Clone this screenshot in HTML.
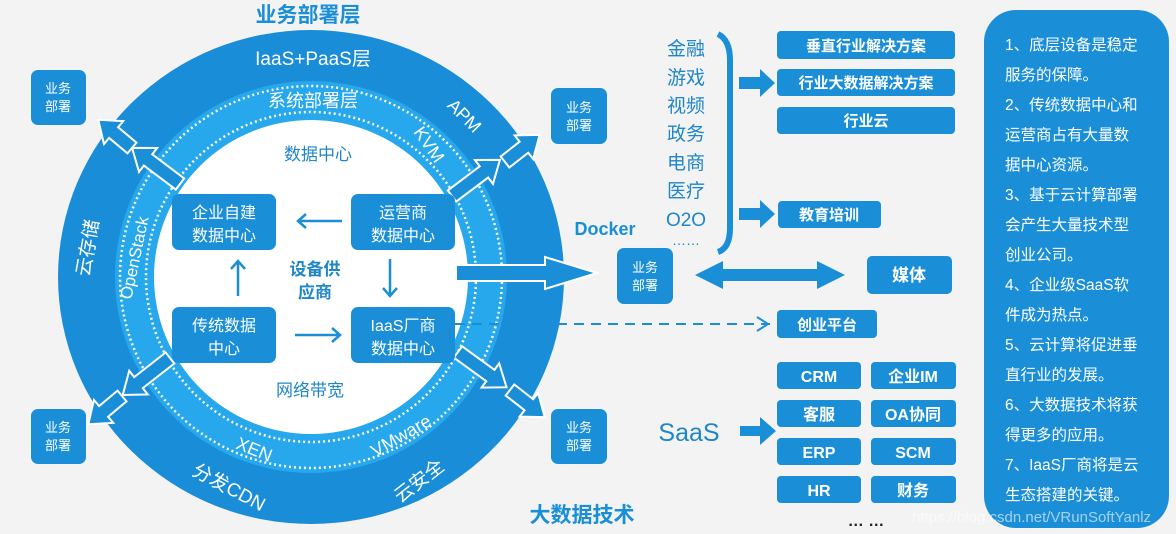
<!DOCTYPE html>
<html><head><meta charset="utf-8"><style>
body{margin:0;background:#f3f3f3;}
svg{display:block;font-family:"Liberation Sans","Noto Sans CJK SC",sans-serif;}
.w{fill:#fff}
.b{fill:#1a8fd8}
</style></head><body>
<svg width="1176" height="534" viewBox="0 0 1176 534" xmlns="http://www.w3.org/2000/svg">
<defs>
<path id="arrL" d="M0,-7 L40,-7 L40,-15 L60,0 L40,15 L40,7 L0,7 Z"/>
<path id="arrS" d="M0,-7 L24,-7 L24,-15 L44,0 L24,15 L24,7 L0,7 Z"/>
</defs>
<rect width="1176" height="534" fill="#f3f3f3"/>
<!-- rings -->
<ellipse cx="311" cy="277" rx="253" ry="247" fill="#1a8dd8"/>
<circle cx="311" cy="277" r="196" fill="#27a7ec"/>
<circle cx="311" cy="277" r="191" fill="none" stroke="#fff" stroke-width="2.5" stroke-dasharray="2 3"/>
<circle cx="311" cy="277" r="165" fill="none" stroke="#fff" stroke-width="2.5" stroke-dasharray="2 3"/>
<circle cx="311" cy="277" r="157" fill="#fff"/>

<!-- radial arrows -->
<g fill="#1a8fd8" stroke="#fff" stroke-width="2">
<use href="#arrL" transform="translate(180,184) rotate(-143)"/>
<use href="#arrS" transform="translate(132,148) rotate(-140)"/>
<use href="#arrL" transform="translate(452,196) rotate(-37)"/>
<use href="#arrS" transform="translate(505,162) rotate(-38)"/>
<use href="#arrL" transform="translate(170,358) rotate(142)"/>
<use href="#arrS" transform="translate(122,396) rotate(140)"/>
<use href="#arrL" transform="translate(458,352) rotate(36)"/>
<use href="#arrS" transform="translate(510,390) rotate(38)"/>
<path d="M456,265 L545,265 L545,257 L597,273 L545,289 L545,281 L456,281 Z"/>
</g>

<!-- ring texts -->
<g class="w" text-anchor="middle">
<text x="313" y="65" font-size="19">IaaS+PaaS层</text>
<text x="313" y="107" font-size="18">系统部署层</text>
<text transform="translate(460,120) rotate(45)" font-size="18">APM</text>
<text transform="translate(424,148) rotate(55)" font-size="18">KVM</text>
<text transform="translate(140,259) rotate(-78)" font-size="17">OpenStack</text>
<text transform="translate(94,249) rotate(-80)" font-size="19">云存储</text>
<text transform="translate(252,455) rotate(22)" font-size="18">XEN</text>
<text transform="translate(404,441) rotate(-30)" font-size="18">VMware</text>
<text transform="translate(226,493) rotate(28)" font-size="19">分发CDN</text>
<text transform="translate(423,486) rotate(-38)" font-size="19">云安全</text>
</g>

<!-- inner -->
<g fill="#1f86c8" text-anchor="middle">
<text x="318" y="160" font-size="17">数据中心</text>
<text x="310" y="396" font-size="17">网络带宽</text>
<text x="315" y="275" font-size="17" font-weight="bold">设备供</text>
<text x="315" y="298" font-size="17" font-weight="bold">应商</text>
</g>
<g class="b">
<rect x="172" y="194" width="104" height="56" rx="7"/>
<rect x="351" y="194" width="104" height="56" rx="7"/>
<rect x="172" y="307" width="104" height="56" rx="7"/>
<rect x="351" y="307" width="104" height="56" rx="7"/>
</g>
<g class="w" text-anchor="middle" font-size="16">
<text x="224" y="218">企业自建</text><text x="224" y="241">数据中心</text>
<text x="403" y="218">运营商</text><text x="403" y="241">数据中心</text>
<text x="224" y="331">传统数据</text><text x="224" y="354">中心</text>
<text x="403" y="331">IaaS厂商</text><text x="403" y="354">数据中心</text>
</g>
<g stroke="#1a8fd8" stroke-width="2.5" fill="none">
<path d="M342,221 L298,221 M306,214 L298,221 L306,228"/>
<path d="M238,296 L238,261 M231,269 L238,261 L245,269"/>
<path d="M390,259 L390,296 M383,288 L390,296 L397,288"/>
<path d="M295,335 L340,335 M332,328 L340,335 L332,342"/>
</g>
<path d="M455,324 L770,324" stroke="#1a8fd8" stroke-width="2" stroke-dasharray="10 7"/>
<path d="M757,317 L768,324 L757,331" stroke="#1a8fd8" stroke-width="2" fill="none"/>

<!-- corner boxes -->
<g class="b">
<rect x="31" y="70" width="55" height="55" rx="7"/>
<rect x="551" y="88" width="56" height="56" rx="7"/>
<rect x="31" y="409" width="55" height="55" rx="7"/>
<rect x="551" y="409" width="56" height="55" rx="7"/>
<rect x="617" y="248" width="56" height="56" rx="7"/>
</g>
<g class="w" text-anchor="middle" font-size="13">
<text x="58" y="93">业务</text><text x="58" y="111">部署</text>
<text x="579" y="112">业务</text><text x="579" y="130">部署</text>
<text x="58" y="432">业务</text><text x="58" y="450">部署</text>
<text x="579" y="432">业务</text><text x="579" y="450">部署</text>
<text x="645" y="272">业务</text><text x="645" y="290">部署</text>
</g>

<!-- titles -->
<g fill="#1a8fd8" font-weight="bold" text-anchor="middle">
<text x="308" y="22" font-size="21">业务部署层</text>
<text x="582" y="522" font-size="21">大数据技术</text>
<text x="605" y="235" font-size="18">Docker</text>
</g>

<!-- industries -->
<g fill="#1f86c8" font-size="19" text-anchor="middle">
<text x="686" y="55">金融</text><text x="686" y="84">游戏</text><text x="686" y="112">视频</text>
<text x="686" y="140">政务</text><text x="686" y="169">电商</text><text x="686" y="197">医疗</text>
<text x="686" y="226">O2O</text><text x="686" y="245" font-size="14">……</text>
<text x="689" y="441" font-size="25">SaaS</text>
</g>
<path d="M718,34 Q730,40 730,60 L730,228 Q730,248 718,252" stroke="#1a8fd8" stroke-width="6" fill="none"/>
<g class="b">
<path d="M739,77 L760,77 L760,69 L775,83 L760,97 L760,89 L739,89 Z"/>
<path d="M739,208 L760,208 L760,200 L775,214 L760,228 L760,220 L739,220 Z"/>
<path d="M740,426 L760,426 L760,417 L776,431 L760,445 L760,436 L740,436 Z"/>
<path d="M695,275 L723,261 L723,269 L817,269 L817,261 L845,275 L817,289 L817,281 L723,281 L723,289 Z"/>
<rect x="777" y="31" width="178" height="28" rx="4"/>
<rect x="777" y="69" width="178" height="27" rx="4"/>
<rect x="777" y="107" width="178" height="27" rx="4"/>
<rect x="778" y="201" width="103" height="27" rx="4"/>
<rect x="867" y="256" width="85" height="38" rx="5"/>
<rect x="777" y="310" width="100" height="28" rx="4"/>
<rect x="777" y="362" width="84" height="27" rx="4"/><rect x="871" y="362" width="85" height="27" rx="4"/>
<rect x="777" y="400" width="84" height="27" rx="4"/><rect x="871" y="400" width="85" height="27" rx="4"/>
<rect x="777" y="438" width="84" height="27" rx="4"/><rect x="871" y="438" width="85" height="27" rx="4"/>
<rect x="777" y="476" width="84" height="27" rx="4"/><rect x="871" y="476" width="85" height="27" rx="4"/>
</g>
<g class="w" font-size="15" font-weight="bold" text-anchor="middle">
<text x="866" y="51">垂直行业解决方案</text>
<text x="866" y="88">行业大数据解决方案</text>
<text x="866" y="126">行业云</text>
<text x="829" y="220">教育培训</text>
<text x="909" y="281" font-size="17">媒体</text>
<text x="827" y="330">创业平台</text>
<text x="819" y="382" font-size="16">CRM</text><text x="913" y="382" font-size="16">企业IM</text>
<text x="819" y="420" font-size="16">客服</text><text x="913" y="420" font-size="16">OA协同</text>
<text x="819" y="458" font-size="16">ERP</text><text x="913" y="458" font-size="16">SCM</text>
<text x="819" y="496" font-size="16">HR</text><text x="913" y="496" font-size="16">财务</text>
</g>
<text x="866" y="526" font-size="16" font-weight="bold" fill="#222" text-anchor="middle">…  …</text>

<!-- right panel -->
<rect x="984" y="10" width="185" height="518" rx="32" fill="#1a8fd8"/>
<g class="w" font-size="15.5">
<text x="1005" y="50">1、底层设备是稳定</text>
<text x="1005" y="80">服务的保障。</text>
<text x="1005" y="110">2、传统数据中心和</text>
<text x="1005" y="140">运营商占有大量数</text>
<text x="1005" y="170">据中心资源。</text>
<text x="1005" y="200">3、基于云计算部署</text>
<text x="1005" y="230">会产生大量技术型</text>
<text x="1005" y="260">创业公司。</text>
<text x="1005" y="290">4、企业级SaaS软</text>
<text x="1005" y="320">件成为热点。</text>
<text x="1005" y="350">5、云计算将促进垂</text>
<text x="1005" y="380">直行业的发展。</text>
<text x="1005" y="410">6、大数据技术将获</text>
<text x="1005" y="440">得更多的应用。</text>
<text x="1005" y="470">7、IaaS厂商将是云</text>
<text x="1005" y="500">生态搭建的关键。</text>
</g>
<text x="912" y="522" font-size="15" fill="#fff" fill-opacity="0.6">https://blog.csdn.net/VRunSoftYanlz</text>
</svg>
</body></html>
